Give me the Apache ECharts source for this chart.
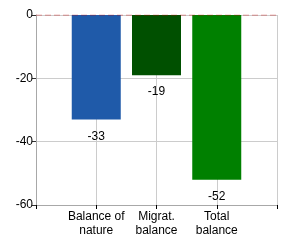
<!DOCTYPE html>
<html><head><meta charset="utf-8">
<script src="https://cdn.jsdelivr.net/npm/echarts@6/dist/echarts.min.js"></script>
<style>html,body{margin:0;padding:0;background:#fff}#c{width:290px;height:250px}</style>
</head><body><div id="c"></div>
<script>
const categories = ['', 'Balance of\nnature', 'Migrat.\nbalance', 'Total\nbalance', ''];
const values = [null, -33, -19, -52, null];
const zeroLine = [0, 0, 0, 0, 0];
const barColors = ['#000', '#1f5aa9', '#005000', '#008000', '#000'];
const yTicks = [-60, -40, -20, 0];

const chart = echarts.init(document.getElementById('c'), null, {renderer: 'canvas'});
chart.setOption({
  animation: false,
  textStyle: {fontFamily: 'Liberation Sans, Arial, sans-serif'},
  grid: {left: 36, right: 13, top: 15, bottom: 45, containLabel: false},
  xAxis: {
    type: 'category',
    data: categories,
    boundaryGap: false,
    axisLine: {show: true, onZero: false, lineStyle: {color: '#a8a8a8', width: 1}},
    axisTick: {show: true, length: 4, lineStyle: {color: '#000'}},
    axisLabel: {color: '#000', fontSize: 12, margin: 5, lineHeight: 14, interval: 0},
    splitLine: {show: true, lineStyle: {color: '#cccccc', width: 1}}
  },
  yAxis: {
    type: 'value',
    min: yTicks[0], max: yTicks[yTicks.length - 1], interval: 20,
    axisLine: {show: true, lineStyle: {color: '#a8a8a8', width: 1}},
    axisTick: {show: true, length: 4, lineStyle: {color: '#333'}},
    axisLabel: {color: '#000', fontSize: 12, margin: 3},
    splitLine: {show: true, lineStyle: {color: '#cccccc', width: 1}}
  },
  series: [{
    type: 'bar',
    data: values.map((v, i) => ({value: v, itemStyle: {color: barColors[i]}})),
    barWidth: 49,
    label: {show: true, position: 'bottom', distance: 8, offset: [0, 3], color: '#000', fontSize: 12}
  }, {
    type: 'line',
    data: zeroLine,
    z: 10,
    symbol: 'none',
    silent: true,
    lineStyle: {color: 'rgba(200,0,0,0.5)', type: [6, 3], width: 1}
  }]
});
</script></body></html>
